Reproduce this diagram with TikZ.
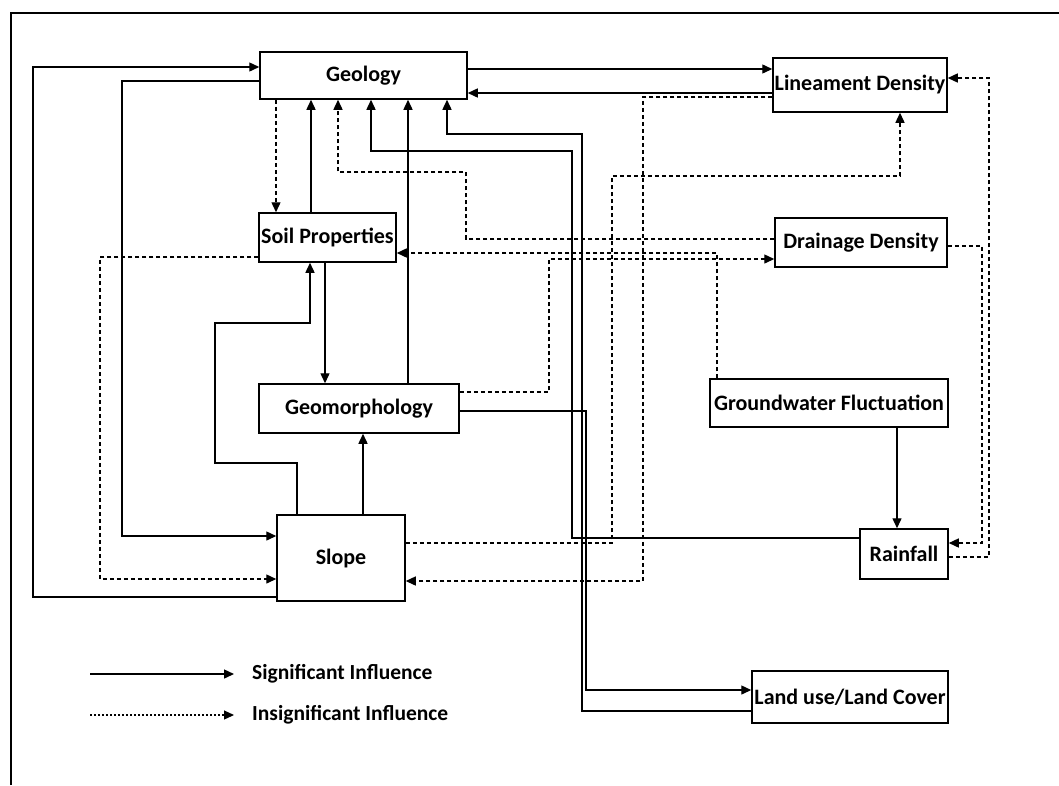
\documentclass[tikz,border=0pt]{standalone}
\usepackage{fontspec}
\setmainfont{Carlito}
\usetikzlibrary{arrows.meta}
\begin{document}
\begin{tikzpicture}[x=1pt,y=-1pt,
  box/.style={draw,line width=1.5pt,rectangle,inner sep=0pt,font=\bfseries\fontsize{22}{26}\selectfont},
  lbl/.style={anchor=west,inner sep=0pt,font=\bfseries\fontsize{21.5}{25}\selectfont},
  sig/.style={line width=1.4pt,-{Triangle[length=10pt,width=9pt]}},
  ins/.style={line width=1.4pt,dash pattern=on 4pt off 3pt,-{Triangle[length=10pt,width=9pt]}},
  insleg/.style={line width=1.2pt,dash pattern=on 2pt off 2pt,-{Triangle[length=10pt,width=9pt]}}]
\useasboundingbox (0,0) rectangle (1059,785);
\fill[white] (0,0) rectangle (1059,785);
% frame
\draw[line width=1.8pt] (11,785) -- (11,13) -- (1059,13);
% nodes
\node[box,minimum width=207pt,minimum height=47pt] (geo) at (363.5,75.5) {Geology};
\node[box,minimum width=174pt,minimum height=54pt] (lin) at (860,85) {Lineament Density};
\node[box,minimum width=137pt,minimum height=49pt] (soil) at (327.5,237.5) {Soil Properties};
\node[box,minimum width=172pt,minimum height=49pt] (drain) at (861,242.5) {Drainage Density};
\node[box,minimum width=200pt,minimum height=49pt] (geom) at (359,408.5) {Geomorphology};
\node[box,minimum width=238pt,minimum height=48pt] (gw) at (829,403) {Groundwater Fluctuation};
\node[box,minimum width=128pt,minimum height=86pt] (slope) at (341,558) {Slope};
\node[box,minimum width=88pt,minimum height=50pt] (rain) at (904,554) {Rainfall};
\node[box,minimum width=196pt,minimum height=52pt] (lulc) at (850,697) {Land use/Land Cover};
% significant influences
\draw[sig] (geo.east |- 0,69) -- (lin.west |- 0,69);
\draw[sig] (lin.west |- 0,93) -- (geo.east |- 0,93);
\draw[sig] (geo.west |- 0,81) -| (122,536) -- (slope.west |- 0,536);
\draw[sig] (slope.west |- 0,597) -| (33,67) -- (geo.west |- 0,67);
\draw[sig] (soil.north -| 311,0) -- (geo.south -| 311,0);
\draw[sig] (soil.south -| 325,0) -- (geom.north -| 325,0);
\draw[sig] (slope.north -| 297,0) |- (215,463) |- (310,323) -- (soil.south -| 310,0);
\draw[sig] (slope.north -| 363,0) -- (geom.south -| 363,0);
\draw[sig] (geom.north -| 408,0) -- (geo.south -| 408,0);
\draw[sig] (rain.west |- 0,538) -| (572,151) -| (geo.south -| 371,0);
\draw[sig] (lulc.west |- 0,711) -| (582,134) -| (geo.south -| 447,0);
\draw[sig] (geom.east |- 0,411) -| (586,690) -- (lulc.west |- 0,690);
\draw[sig] (gw.south -| 897,0) -- (rain.north -| 897,0);
% insignificant influences
\draw[ins] (geo.south -| 276,0) -- (soil.north -| 276,0);
\draw[ins] (drain.west |- 0,239) -| (466,172) -| (geo.south -| 338,0);
\draw[ins] (gw.north -| 717,0) |- (soil.east |- 0,253);
\draw[ins] (soil.west |- 0,257) -| (100,579) -- (slope.west |- 0,579);
\draw[ins] (lin.west |- 0,97) -| (643,581) -- (slope.east |- 0,581);
\draw[ins] (slope.east |- 0,543) -| (612,176) -| (lin.south -| 900,0);
\draw[ins] (geom.east |- 0,392) -| (549,259) -- (drain.west |- 0,259);
\draw[ins] (drain.east |- 0,246) -| (982,543) -- (rain.east |- 0,543);
\draw[ins] (rain.east |- 0,557) -| (989,78) -- (lin.east |- 0,78);
% legend
\coordinate (s1) at (90,674);
\coordinate (s2) at (234,674);
\coordinate (d1) at (90,715);
\coordinate (d2) at (234,715);
\draw[sig] (s1) -- (s2);
\draw[insleg] (d1) -- (d2);
\node[lbl] (t1) at (252,674) {Significant Influence};
\node[lbl] (t2) at (252,715) {Insignificant Influence};
\end{tikzpicture}
\end{document}
